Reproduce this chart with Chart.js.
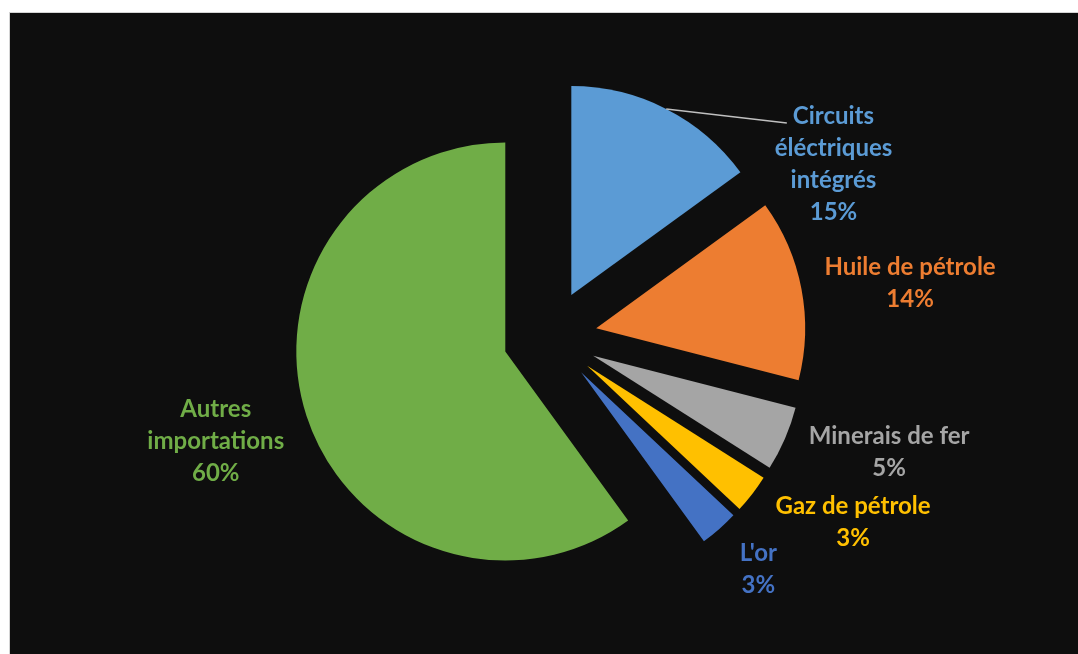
<!DOCTYPE html>
<html>
<head>
<meta charset="utf-8">
<script src="https://cdn.jsdelivr.net/npm/chart.js@4"></script>
<style>
  html, body { margin: 0; padding: 0; background: #ffffff; overflow: hidden; }
  #box {
    position: absolute; left: 9px; top: 12px;
    width: 1069px; height: 642px;
    background: #0e0e0e;
    border-left: 1px solid #d4d4d4; border-top: 1px solid #d4d4d4;
  }
  #chart { display: block; }
</style>
</head>
<body>
<div id="box"><canvas id="chart" width="1069" height="642"></canvas></div>
<script>
'use strict';

// slice names (line breaks as in the original labels) and their shares in %
const categories = [
  ['Circuits', 'éléctriques', 'intégrés'],
  ['Huile de pétrole'],
  ['Minerais de fer'],
  ['Gaz de pétrole'],
  ["L'or"],
  ['Autres', 'importations']
];
const shares = [15, 14, 5, 3, 3, 60];
const sliceColors = ['#5B9BD5', '#ED7D31', '#A5A5A5', '#FFC000', '#4472C4', '#70AD47'];

// how far each slice is pulled out (Chart.js divides arc offset by 4 when drawing)
const EXPLODE = 188;

// where each label sits: angle shift from the slice middle (deg) and distance in radii
const labelPlace = [
  { shift: 31.6, dist: 1.589, leader: true },
  { shift: 2.3, dist: 1.742 },
  { shift: -4.7, dist: 1.713 },
  { shift: -6.4, dist: 1.699 },
  { shift: -0.5, dist: 1.493 },
  { shift: 0.7, dist: 1.675 }
];

// Chart.js grows the radius and trims the angle of offset arcs;
// undo both so every slice keeps its true size, only pushed outwards
const plainExplode = {
  id: 'plainExplode',
  afterDatasetUpdate(chart, args) {
    const meta = args.meta;
    const R = meta.controller.outerRadius;
    meta.data.forEach(arc => {
      const fix = 1 - Math.sin(Math.min(Math.PI, arc.circumference));
      const o = (EXPLODE / 4) * fix;
      arc.outerRadius = R - o;
      const widen = o / (Math.PI * R) / 2;
      arc.startAngle -= widen;
      arc.endAngle += widen;
    });
  }
};

const pieLabels = {
  id: 'pieLabels',
  afterDatasetsDraw(chart) {
    const ctx = chart.ctx;
    const meta = chart.getDatasetMeta(0);
    const R = meta.controller.outerRadius;
    const total = shares.reduce((a, b) => a + b, 0);
    const lineH = 32;
    ctx.save();
    ctx.font = 'bold 24px Lato';
    ctx.textAlign = 'center';
    ctx.textBaseline = 'middle';
    meta.data.forEach((arc, i) => {
      const mid = (arc.startAngle + arc.endAngle) / 2;
      const place = labelPlace[i];
      const a = mid + place.shift * Math.PI / 180;
      const cx = arc.x + Math.cos(a) * R * place.dist;
      const cy = arc.y + Math.sin(a) * R * place.dist;
      const lines = categories[i].concat([Math.round(shares[i] / total * 100) + '%']);
      const top = cy - (lines.length - 1) * lineH / 2;

      if (place.leader) {
        const ex = EXPLODE / 4;
        const sx = arc.x + Math.cos(mid) * (R + ex);
        const sy = arc.y + Math.sin(mid) * (R + ex);
        const w = ctx.measureText(lines[0]).width;
        ctx.strokeStyle = '#bfbfbf';
        ctx.lineWidth = 1.5;
        ctx.beginPath();
        ctx.moveTo(sx, sy);
        ctx.lineTo(cx - w / 2 - 6, top + 7);
        ctx.stroke();
      }

      ctx.fillStyle = sliceColors[i];
      lines.forEach((t, k) => ctx.fillText(t, cx, top + k * lineH));
    });
    ctx.restore();
  }
};

new Chart(document.getElementById('chart'), {
  type: 'pie',
  data: {
    labels: categories.map(c => c.join(' ')),
    datasets: [{
      data: shares,
      backgroundColor: sliceColors,
      borderWidth: 0,
      hoverBorderWidth: 0,
      offset: EXPLODE,
      hoverOffset: 0,
      clip: false
    }]
  },
  options: {
    responsive: false,
    animation: false,
    events: [],
    layout: { padding: { left: 237, right: 226, top: 21, bottom: 15 } },
    plugins: {
      legend: { display: false },
      tooltip: { enabled: false }
    }
  },
  plugins: [plainExplode, pieLabels]
});
</script>
</body>
</html>
